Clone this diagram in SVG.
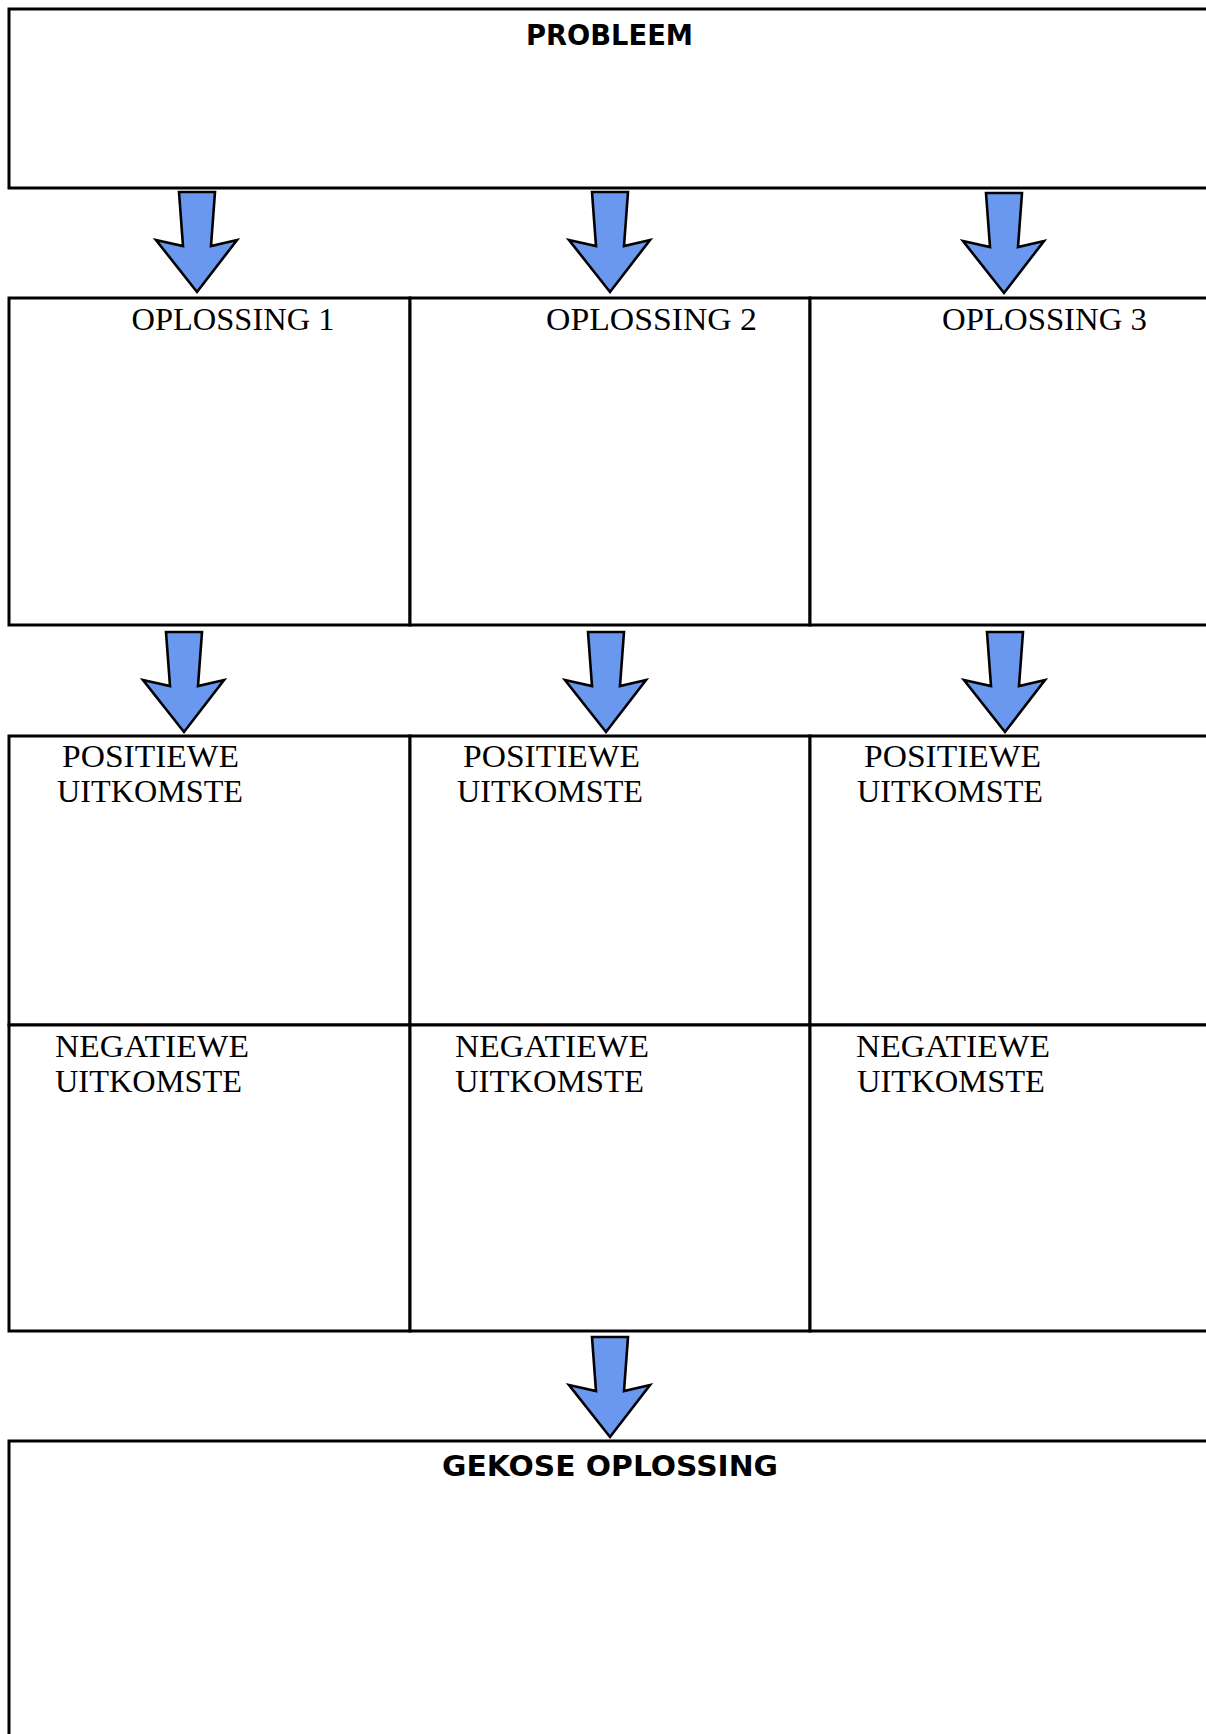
<svg xmlns="http://www.w3.org/2000/svg" xmlns:xlink="http://www.w3.org/1999/xlink" width="1206" height="1734" viewBox="0 0 1206 1734">
<style>
.box{fill:#ffffff;stroke:#000000;stroke-width:3}
.head{font-family:"DejaVu Sans","Liberation Sans",sans-serif;font-weight:bold;font-size:28px;fill:#000}
.sol{font-family:"Liberation Serif","DejaVu Serif",serif;font-size:32px;fill:#000}
.lbl{font-family:"Liberation Serif","DejaVu Serif",serif;font-size:31px;fill:#000}
.arrow{fill:#6a98ee;stroke:#000000;stroke-width:2.6;stroke-linejoin:miter}
</style>
<defs>
<path id="arr" d="M -18,0 L 18,0 L 14,54 L 40,48 L 0,100 L -41,48 L -14,54 Z"/>
</defs>
<rect x="0" y="0" width="1206" height="1734" fill="#ffffff"/>

<g id="problem">
<rect class="box" x="9" y="9" width="1210" height="179"/>
<text class="head" x="609.5" y="45" text-anchor="middle" textLength="167" lengthAdjust="spacingAndGlyphs">PROBLEEM</text>
</g>

<g id="oplossing1">
<rect class="box" x="9" y="298" width="401" height="327"/>
<text class="sol" x="131.5" y="330" textLength="203" lengthAdjust="spacingAndGlyphs">OPLOSSING 1</text>
</g>
<g id="oplossing2">
<rect class="box" x="410" y="298" width="400" height="327"/>
<text class="sol" x="546" y="330" textLength="211" lengthAdjust="spacingAndGlyphs">OPLOSSING 2</text>
</g>
<g id="oplossing3">
<rect class="box" x="810" y="298" width="410" height="327"/>
<text class="sol" x="942" y="330" textLength="205" lengthAdjust="spacingAndGlyphs">OPLOSSING 3</text>
</g>

<g id="positief1">
<rect class="box" x="9" y="736" width="401" height="289"/>
<text class="lbl" x="62" y="767" textLength="177" lengthAdjust="spacingAndGlyphs">POSITIEWE</text>
<text class="lbl" x="57" y="802" textLength="186" lengthAdjust="spacingAndGlyphs">UITKOMSTE</text>
</g>
<g id="positief2">
<rect class="box" x="410" y="736" width="400" height="289"/>
<text class="lbl" x="463" y="767" textLength="177" lengthAdjust="spacingAndGlyphs">POSITIEWE</text>
<text class="lbl" x="457" y="802" textLength="186" lengthAdjust="spacingAndGlyphs">UITKOMSTE</text>
</g>
<g id="positief3">
<rect class="box" x="810" y="736" width="410" height="289"/>
<text class="lbl" x="864" y="767" textLength="177" lengthAdjust="spacingAndGlyphs">POSITIEWE</text>
<text class="lbl" x="857" y="802" textLength="186" lengthAdjust="spacingAndGlyphs">UITKOMSTE</text>
</g>

<g id="negatief1">
<rect class="box" x="9" y="1025" width="401" height="306"/>
<text class="lbl" x="55" y="1057" textLength="194" lengthAdjust="spacingAndGlyphs">NEGATIEWE</text>
<text class="lbl" x="55" y="1092" textLength="187" lengthAdjust="spacingAndGlyphs">UITKOMSTE</text>
</g>
<g id="negatief2">
<rect class="box" x="410" y="1025" width="400" height="306"/>
<text class="lbl" x="455" y="1057" textLength="194" lengthAdjust="spacingAndGlyphs">NEGATIEWE</text>
<text class="lbl" x="455" y="1092" textLength="189" lengthAdjust="spacingAndGlyphs">UITKOMSTE</text>
</g>
<g id="negatief3">
<rect class="box" x="810" y="1025" width="410" height="306"/>
<text class="lbl" x="856" y="1057" textLength="194" lengthAdjust="spacingAndGlyphs">NEGATIEWE</text>
<text class="lbl" x="857" y="1092" textLength="188" lengthAdjust="spacingAndGlyphs">UITKOMSTE</text>
</g>

<g id="gekose">
<rect class="box" x="9" y="1441" width="1210" height="310"/>
<text class="head" x="610" y="1476" text-anchor="middle" textLength="336" lengthAdjust="spacingAndGlyphs">GEKOSE OPLOSSING</text>
</g>

<g id="connectors">
<use class="arrow" xlink:href="#arr" href="#arr" x="197" y="192"/>
<use class="arrow" xlink:href="#arr" href="#arr" x="610" y="192"/>
<use class="arrow" xlink:href="#arr" href="#arr" x="1004" y="193"/>
<use class="arrow" xlink:href="#arr" href="#arr" x="184" y="632"/>
<use class="arrow" xlink:href="#arr" href="#arr" x="606" y="632"/>
<use class="arrow" xlink:href="#arr" href="#arr" x="1005" y="632"/>
<use class="arrow" xlink:href="#arr" href="#arr" x="610" y="1337"/>
</g>
</svg>
